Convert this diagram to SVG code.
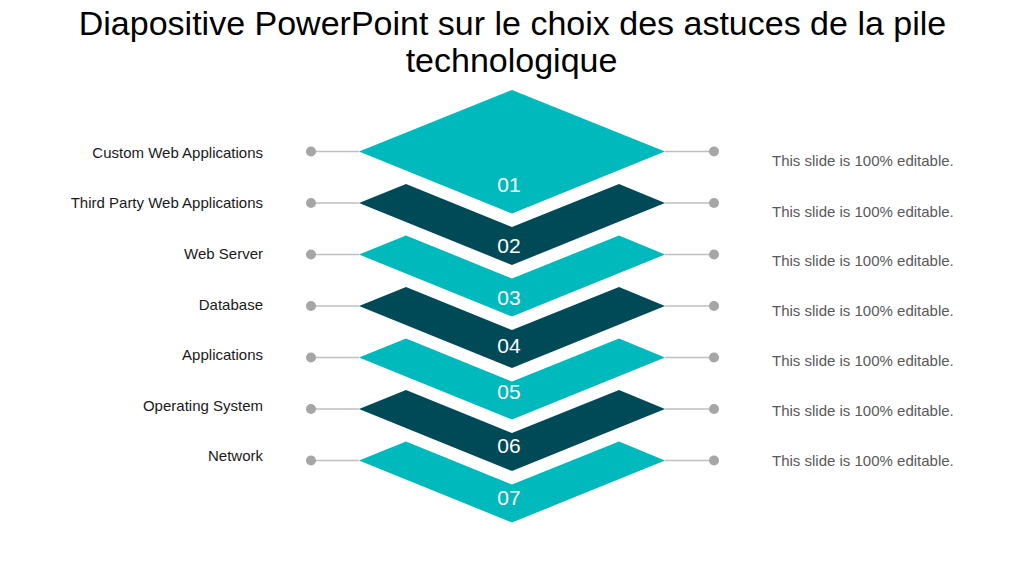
<svg xmlns="http://www.w3.org/2000/svg" width="1024" height="576" viewBox="0 0 1024 576">
<style>
.title{font-family:"Liberation Sans",Arial,sans-serif;font-size:34px;fill:#000;text-anchor:middle}
.lbl{font-family:"Liberation Sans",Arial,sans-serif;font-size:15px;fill:#1a1a1a;text-anchor:end}
.desc{font-family:"Liberation Sans",Arial,sans-serif;font-size:15px;fill:#595959}
.num{font-family:"Liberation Sans",Arial,sans-serif;font-size:21px;fill:#fff;text-anchor:middle}
.teal{fill:#00B9BC}
.dark{fill:#004A58}
.ln{stroke:#bfbfbf;stroke-width:1.3;fill:none}
.dot{fill:#a6a6a6}
</style>
<rect width="1024" height="576" fill="#fff"/>
<g id="title">
<text class="title" x="512.5" y="35">Diapositive PowerPoint sur le choix des astuces de la pile</text>
<text class="title" x="511.5" y="72">technologique</text>
</g>
<g id="connectors">
<line class="ln" x1="311" y1="151.5" x2="359" y2="151.5"/><line class="ln" x1="665" y1="151.5" x2="714" y2="151.5"/>
<line class="ln" x1="311" y1="203" x2="359" y2="203"/><line class="ln" x1="665" y1="203" x2="714" y2="203"/>
<line class="ln" x1="311" y1="254.5" x2="359" y2="254.5"/><line class="ln" x1="665" y1="254.5" x2="714" y2="254.5"/>
<line class="ln" x1="311" y1="306" x2="359" y2="306"/><line class="ln" x1="665" y1="306" x2="714" y2="306"/>
<line class="ln" x1="311" y1="357.5" x2="359" y2="357.5"/><line class="ln" x1="665" y1="357.5" x2="714" y2="357.5"/>
<line class="ln" x1="311" y1="409" x2="359" y2="409"/><line class="ln" x1="665" y1="409" x2="714" y2="409"/>
<line class="ln" x1="311" y1="460.5" x2="359" y2="460.5"/><line class="ln" x1="665" y1="460.5" x2="714" y2="460.5"/>
<circle class="dot" cx="311" cy="151.5" r="5"/><circle class="dot" cx="714" cy="151.5" r="5"/>
<circle class="dot" cx="311" cy="203" r="5"/><circle class="dot" cx="714" cy="203" r="5"/>
<circle class="dot" cx="311" cy="254.5" r="5"/><circle class="dot" cx="714" cy="254.5" r="5"/>
<circle class="dot" cx="311" cy="306" r="5"/><circle class="dot" cx="714" cy="306" r="5"/>
<circle class="dot" cx="311" cy="357.5" r="5"/><circle class="dot" cx="714" cy="357.5" r="5"/>
<circle class="dot" cx="311" cy="409" r="5"/><circle class="dot" cx="714" cy="409" r="5"/>
<circle class="dot" cx="311" cy="460.5" r="5"/><circle class="dot" cx="714" cy="460.5" r="5"/>
</g>
<g id="layer1">
<polygon class="teal" points="512,90 665,151.5 512,213.5 359,151.5"/>
<text class="num" x="509" y="191.7">01</text>
<text class="lbl" x="263" y="158">Custom Web Applications</text>
<text class="desc" x="772" y="166">This slide is 100% editable.</text>
</g>
<g id="layer2">
<polygon class="dark" points="359,203 406,184 512,227 619,184 665,203 512,265"/>
<text class="num" x="509" y="253">02</text>
<text class="lbl" x="263" y="208">Third Party Web Applications</text>
<text class="desc" x="772" y="216.5">This slide is 100% editable.</text>
</g>
<g id="layer3">
<polygon class="teal" points="359,254.5 406,235.5 512,278.5 619,235.5 665,254.5 512,316.5"/>
<text class="num" x="509" y="305">03</text>
<text class="lbl" x="263" y="259">Web Server</text>
<text class="desc" x="772" y="266">This slide is 100% editable.</text>
</g>
<g id="layer4">
<polygon class="dark" points="359,306 406,287 512,330 619,287 665,306 512,368"/>
<text class="num" x="509" y="352.7">04</text>
<text class="lbl" x="263" y="310">Database</text>
<text class="desc" x="772" y="316">This slide is 100% editable.</text>
</g>
<g id="layer5">
<polygon class="teal" points="359,357.5 406,338.5 512,381.5 619,338.5 665,357.5 512,419.5"/>
<text class="num" x="509" y="399">05</text>
<text class="lbl" x="263" y="360">Applications</text>
<text class="desc" x="772" y="366">This slide is 100% editable.</text>
</g>
<g id="layer6">
<polygon class="dark" points="359,409 406,390 512,433 619,390 665,409 512,471"/>
<text class="num" x="509" y="452.7">06</text>
<text class="lbl" x="263" y="411">Operating System</text>
<text class="desc" x="772" y="416">This slide is 100% editable.</text>
</g>
<g id="layer7">
<polygon class="teal" points="359,460.5 406,441.5 512,484.5 619,441.5 665,460.5 512,522.5"/>
<text class="num" x="509" y="505">07</text>
<text class="lbl" x="263" y="461">Network</text>
<text class="desc" x="772" y="466">This slide is 100% editable.</text>
</g>
</svg>
